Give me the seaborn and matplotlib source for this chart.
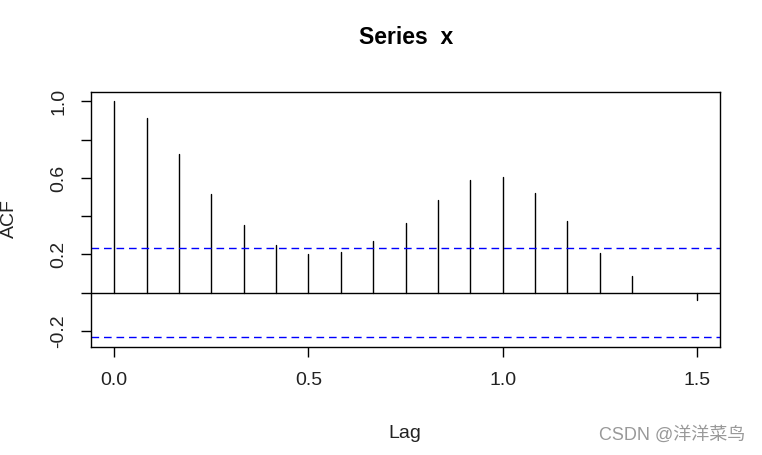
import numpy as np
import pandas as pd
import matplotlib
matplotlib.use("Agg")
import matplotlib.pyplot as plt
import seaborn as sns

# ---- data ----
lags = [i / 12 for i in range(19)]
acf_values = [1.000, 0.911, 0.727, 0.518, 0.353, 0.250, 0.205, 0.212, 0.270,
              0.367, 0.484, 0.591, 0.605, 0.524, 0.374, 0.210, 0.086, 0.000, -0.038]
conf_limit = 0.2326
x_ticks = [0.0, 0.5, 1.0, 1.5]
x_tick_labels = ["0.0", "0.5", "1.0", "1.5"]
y_ticks = [-0.2, 0.0, 0.2, 0.4, 0.6, 0.8, 1.0]
y_tick_labels = ["-0.2", "", "0.2", "", "0.6", "", "1.0"]
title = "Series  x"
watermark = "CSDN @洋洋菜鸟"

sns.set_style("white")
plt.rcParams["font.family"] = ["Liberation Sans", "DejaVu Sans"]

fig = plt.figure(figsize=(7.62, 4.55), dpi=100)
ax = fig.add_axes([91 / 762, 1 - 346.7 / 455, (720 - 91) / 762, (346.7 - 92) / 455])

# stems as a long-form frame: each lag a unit from 0 to its value
rows = []
for lag, v in zip(lags, acf_values):
    rows.append({"lag": lag, "acf": 0.0, "unit": lag})
    rows.append({"lag": lag, "acf": v, "unit": lag})
df = pd.DataFrame(rows)
sns.lineplot(data=df, x="lag", y="acf", units="unit", estimator=None,
             color="black", linewidth=1.0, ax=ax, sort=False)

ax.axhline(0, color="black", linewidth=1.0)
for c in (conf_limit, -conf_limit):
    ax.axhline(c, color="#0000FF", linewidth=1.0, linestyle=(0, (5.5, 3.5)))

ax.set_xlim(-0.06, 1.56)
ax.set_ylim(-0.2819, 1.0493)
ax.set_xticks(x_ticks)
ax.set_xticklabels(x_tick_labels)
ax.set_yticks(y_ticks)
ax.set_yticklabels(y_tick_labels, rotation=90, va="center")
ax.set_xlabel("")
ax.set_ylabel("")

ax.tick_params(axis="both", direction="out", length=7, width=1, color="black",
               labelsize=14, labelcolor="#222222", bottom=True, left=True)
ax.tick_params(axis="x", pad=11)
ax.tick_params(axis="y", pad=10)
for s in ax.spines.values():
    s.set_visible(True)
    s.set_color("black")
    s.set_linewidth(1.0)

fig.text(406 / 762, 1 - 37.5 / 455, title, ha="center", va="center",
         fontsize=16.5, fontweight="bold", color="black")
fig.text(405 / 762, 1 - 433 / 455, "Lag", ha="center", va="center", fontsize=14,
         color="#222222")
fig.text(9 / 762, 1 - 219 / 455, "ACF", ha="center", va="center", rotation=90,
         fontsize=14, color="#222222")
fig.text(745 / 762, 1 - 435 / 455, watermark, ha="right", va="center", fontsize=13,
         color="#999999", family=["Liberation Sans", "Noto Sans CJK SC"])

fig.savefig("out.png", dpi=100)
